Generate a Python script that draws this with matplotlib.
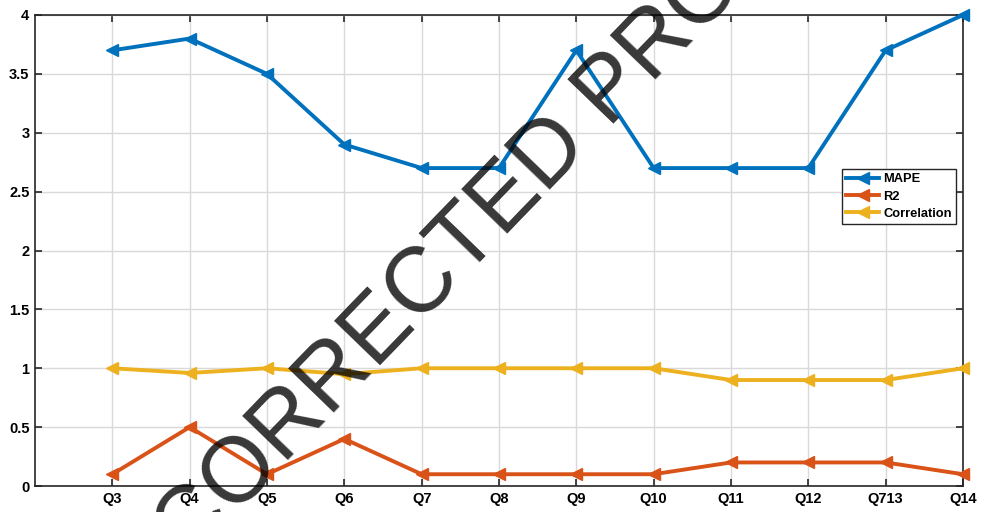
import matplotlib
matplotlib.use("Agg")
import matplotlib.pyplot as plt
import numpy as np

categories = ["Q3", "Q4", "Q5", "Q6", "Q7", "Q8", "Q9", "Q10", "Q11", "Q12", "Q713", "Q14"]
mape = [3.7, 3.8, 3.5, 2.9, 2.7, 2.7, 3.7, 2.7, 2.7, 2.7, 3.7, 4.0]
r2 = [0.1, 0.5, 0.1, 0.4, 0.1, 0.1, 0.1, 0.1, 0.2, 0.2, 0.2, 0.1]
correlation = [1.0, 0.96, 1.0, 0.95, 1.0, 1.0, 1.0, 1.0, 0.9, 0.9, 0.9, 1.0]
yticks = [0, 0.5, 1, 1.5, 2, 2.5, 3, 3.5, 4]
ytick_labels = ["0", "0.5", "1", "1.5", "2", "2.5", "3", "3.5", "4"]

plt.rcParams['font.family'] = ['Liberation Sans', 'DejaVu Sans']

fig = plt.figure(figsize=(9.81, 5.12), dpi=100)
ax = fig.add_axes([35/981, 1 - 486/512, (963-35)/981, (486-15)/512])

x = np.arange(1, len(categories) + 1)
series = [("MAPE", mape, "#0072BD"), ("R2", r2, "#D95319"), ("Correlation", correlation, "#EDB120")]
for name, vals, col in series:
    ax.plot(x, vals, color=col, linewidth=2.8, marker='<', markersize=8.5, label=name, clip_on=False, zorder=3)

ax.set_xlim(0, len(categories))
ax.set_ylim(0, 4)
ax.set_xticks(x)
ax.set_xticklabels(categories, fontsize=10.5, fontweight='bold')
ax.set_yticks(yticks)
ax.set_yticklabels(ytick_labels, fontsize=10.5, fontweight='bold')
ax.grid(True, color='#d9d9d9', linewidth=1.0)
ax.set_axisbelow(True)
ax.tick_params(direction='in', length=5, width=1.2, top=True, right=True, color='#262626', pad=4)
for s in ax.spines.values():
    s.set_linewidth(1.2)
    s.set_color('#262626')

leg = ax.legend(loc='upper right', bbox_to_anchor=(0.992, 0.672), borderaxespad=0,
                fancybox=False, framealpha=1, edgecolor='#262626',
                prop={'weight': 'bold', 'size': 9.3}, handlelength=2.6,
                handletextpad=0.3, labelspacing=0.4, borderpad=0.3)
leg.get_frame().set_linewidth(1.0)

fig.text(0.522, 0.553, "CORRECTED PROOF", fontsize=66, rotation=46,
         rotation_mode='anchor', ha='center', va='baseline', color='black', alpha=0.78,
         family=['Liberation Sans', 'DejaVu Sans'], zorder=10)

fig.savefig("out.png", dpi=100)
